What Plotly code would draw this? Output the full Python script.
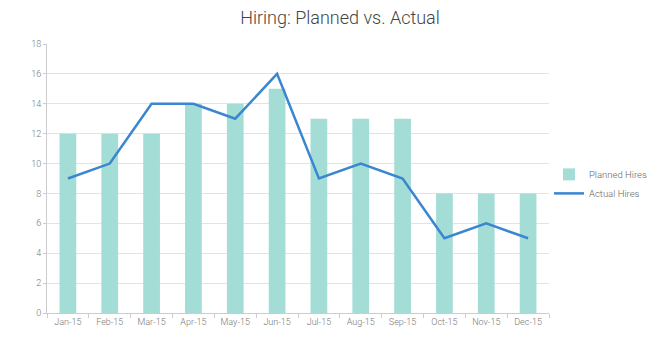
import plotly.graph_objects as go

months = ["Jan-15", "Feb-15", "Mar-15", "Apr-15", "May-15", "Jun-15",
          "Jul-15", "Aug-15", "Sep-15", "Oct-15", "Nov-15", "Dec-15"]
planned = [12, 12, 12, 14, 14, 15, 13, 13, 13, 8, 8, 8]
actual = [9, 10, 14, 14, 13, 16, 9, 10, 9, 5, 6, 5]
y_ticks = list(range(0, 19, 2))

fig = go.Figure()
fig.add_trace(go.Bar(x=months, y=planned, name="Planned Hires",
                     marker=dict(color="#a4ddd6", line=dict(width=0)),
                     width=0.4))
fig.add_trace(go.Scatter(x=months, y=actual, name="Actual Hires", mode="lines",
                         line=dict(color="#3a86d0", width=2.5)))

fig.update_layout(
    width=664, height=350,
    margin=dict(l=39, r=123, t=36, b=45),
    paper_bgcolor="white", plot_bgcolor="white",
    font=dict(family="Roboto", color="#777", size=9, weight=300),
    title=dict(text="Hiring: Planned vs. Actual", x=0.5, xanchor="center",
               y=0.971, yanchor="middle",
               font=dict(family="Roboto", size=18, color="#444", weight=300)),
    showlegend=True,
    legend=dict(x=1.0, y=0.48, xanchor="left", yanchor="middle",
                font=dict(size=9.5, color="#666", weight=300), tracegroupgap=3,
                itemwidth=30),
    bargap=0.6,
)
fig.update_xaxes(showline=True, linecolor="#ccc", linewidth=1,
                 ticks="outside", ticklen=4, tickcolor="#ccc",
                 tickson="boundaries", showgrid=False, tickangle=0,
                 automargin=False,
                 tickfont=dict(size=9, color="#777", weight=300))
fig.update_yaxes(range=[0, 18], tickvals=y_ticks, showline=True,
                 linecolor="#ccc", linewidth=1, ticks="outside", ticklen=3,
                 tickcolor="#ccc", showgrid=True, gridcolor="#e3e3e3",
                 gridwidth=1, zeroline=False, automargin=False,
                 tickfont=dict(size=9, color="#777", weight=300))

fig.write_html("out.html")
